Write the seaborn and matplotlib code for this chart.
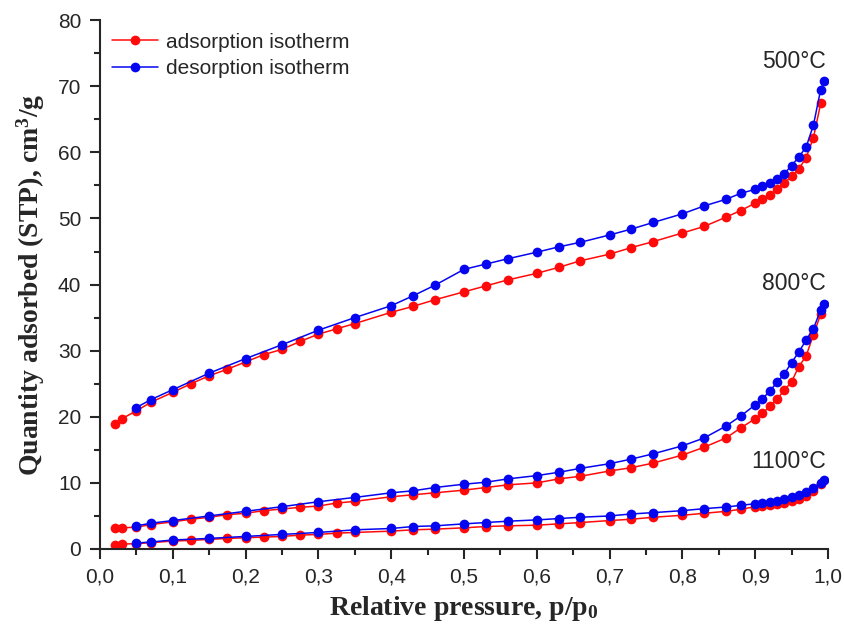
import numpy as np
import pandas as pd
import matplotlib
matplotlib.use('Agg')
import matplotlib.pyplot as plt
from matplotlib.ticker import MultipleLocator, FuncFormatter
import seaborn as sns

# relative pressure points (adsorption branch / desorption branch)
p_ads = [0.02, 0.03, 0.05, 0.07, 0.1, 0.125, 0.15, 0.175, 0.2, 0.225, 0.25, 0.275, 0.3, 0.325, 0.35,
         0.4, 0.43, 0.46, 0.5, 0.53, 0.56, 0.6, 0.63, 0.66, 0.7, 0.73, 0.76, 0.8, 0.83, 0.86, 0.88,
         0.9, 0.91, 0.92, 0.93, 0.94, 0.95, 0.96, 0.97, 0.98, 0.99]
p_des = [0.05, 0.07, 0.1, 0.15, 0.2, 0.25, 0.3, 0.35, 0.4, 0.43, 0.46, 0.5, 0.53, 0.56, 0.6, 0.63,
         0.66, 0.7, 0.73, 0.76, 0.8, 0.83, 0.86, 0.88, 0.9, 0.91, 0.92, 0.93, 0.94, 0.95, 0.96,
         0.97, 0.98, 0.99, 0.995]

# quantity adsorbed, cm3/g
ads_500 = [18.9, 19.7, 20.9, 22.2, 23.7, 25.0, 26.2, 27.2, 28.3, 29.4, 30.2, 31.4, 32.5, 33.3, 34.1,
           35.8, 36.7, 37.7, 38.9, 39.8, 40.7, 41.7, 42.6, 43.6, 44.6, 45.6, 46.5, 47.8, 48.8, 50.2,
           51.2, 52.3, 52.9, 53.6, 54.4, 55.3, 56.4, 57.5, 59.2, 62.2, 67.4]
des_500 = [21.4, 22.6, 24.1, 26.6, 28.8, 30.9, 33.1, 35.0, 36.8, 38.3, 39.9, 42.3, 43.1, 43.9, 44.9,
           45.7, 46.4, 47.5, 48.4, 49.4, 50.7, 51.9, 52.9, 53.8, 54.4, 54.9, 55.4, 56.0, 56.8, 58.0,
           59.3, 60.8, 64.1, 69.5, 70.8]
ads_800 = [3.1, 3.2, 3.3, 3.7, 4.1, 4.5, 4.8, 5.2, 5.4, 5.8, 6.05, 6.3, 6.5, 6.95, 7.2, 7.9, 8.2,
           8.5, 8.9, 9.3, 9.7, 10.0, 10.6, 11.0, 11.8, 12.3, 13.0, 14.2, 15.4, 16.8, 18.3, 19.7,
           20.5, 21.6, 22.7, 24.0, 25.3, 27.6, 29.2, 32.4, 35.5]
des_800 = [3.5, 3.9, 4.3, 5.0, 5.7, 6.4, 7.15, 7.8, 8.5, 8.8, 9.3, 9.8, 10.1, 10.6, 11.1, 11.6,
           12.2, 12.9, 13.6, 14.4, 15.6, 16.8, 18.6, 20.1, 21.8, 22.7, 23.9, 25.2, 26.5, 28.2,
           29.8, 31.6, 33.3, 36.2, 37.0]
ads_1100 = [0.6, 0.75, 0.8, 0.96, 1.2, 1.3, 1.45, 1.6, 1.7, 1.8, 1.9, 2.1, 2.2, 2.4, 2.5, 2.7,
            2.9, 3.0, 3.2, 3.4, 3.5, 3.6, 3.8, 4.0, 4.3, 4.5, 4.8, 5.1, 5.4, 5.7, 6.0, 6.4, 6.5,
            6.6, 6.75, 7.0, 7.25, 7.6, 8.0, 8.7, 9.8]
des_1100 = [0.9, 1.06, 1.36, 1.6, 1.9, 2.2, 2.5, 2.9, 3.1, 3.4, 3.5, 3.8, 4.0, 4.2, 4.4, 4.6, 4.8,
            5.0, 5.3, 5.5, 5.8, 6.1, 6.35, 6.6, 6.85, 6.95, 7.1, 7.25, 7.5, 7.8, 8.2, 8.6, 9.3,
            10.0, 10.4]

temps = ['500°C', '800°C', '1100°C']
label_pos = [(0.997, 73.7), (0.997, 40.2), (0.997, 13.2)]

sns.set_style('ticks')
plt.rcParams['font.family'] = ['Liberation Sans', 'DejaVu Sans']
plt.rcParams['mathtext.fontset'] = 'custom'
plt.rcParams['mathtext.rm'] = 'Liberation Serif:bold'
plt.rcParams['mathtext.it'] = 'Liberation Serif:bold'
plt.rcParams['mathtext.bf'] = 'Liberation Serif:bold'

fig = plt.figure(figsize=(8.44, 6.30), dpi=100)
ax = fig.add_axes([0.1185, 0.1286, 0.8625, 0.8394])

red = '#ff0a0a'
blue = '#0505f0'
curves = [(ads_500, des_500), (ads_800, des_800), (ads_1100, des_1100)]
for i, (a, d) in enumerate(curves):
    sns.lineplot(x=p_ads, y=a, ax=ax, color=red, marker='o', markersize=7, markeredgewidth=0,
                 lw=1.1, label='adsorption isotherm' if i == 0 else None)
    sns.lineplot(x=p_des, y=d, ax=ax, color=blue, marker='o', markersize=7, markeredgewidth=0,
                 lw=1.1, label='desorption isotherm' if i == 0 else None)

for t, (x, y) in zip(temps, label_pos):
    ax.text(x, y, t, ha='right', va='center', fontsize=16.5)

ax.set_xlim(0, 1.0)
ax.set_ylim(0, 80)
ax.xaxis.set_major_locator(MultipleLocator(0.1))
ax.xaxis.set_minor_locator(MultipleLocator(0.05))
ax.yaxis.set_major_locator(MultipleLocator(10))
ax.yaxis.set_minor_locator(MultipleLocator(5))
ax.xaxis.set_major_formatter(FuncFormatter(lambda v, _: f'{v:.1f}'.replace('.', ',')))
ax.yaxis.set_major_formatter(FuncFormatter(lambda v, _: f'{v:.0f}'))
ax.tick_params(which='major', direction='out', length=7.5, width=1.5, labelsize=15, pad=6)
ax.tick_params(which='minor', direction='out', length=4.5, width=1.5)
sns.despine(ax=ax)
for s in ['left', 'bottom']:
    ax.spines[s].set_linewidth(1.5)

ax.set_xlabel('Relative pressure, p/p$_0$', family='Liberation Serif', fontweight='bold',
              fontsize=20, labelpad=5)
ax.set_ylabel('Quantity adsorbed (STP), cm$^3$/g', family='Liberation Serif', fontweight='bold',
              fontsize=20, labelpad=8)

ax.legend(loc='upper left', bbox_to_anchor=(-0.007, 1.008), frameon=False, fontsize=15,
          handlelength=2.25, handletextpad=0.35, labelspacing=0.35, borderaxespad=0.4)

fig.savefig('out.png', dpi=100)
